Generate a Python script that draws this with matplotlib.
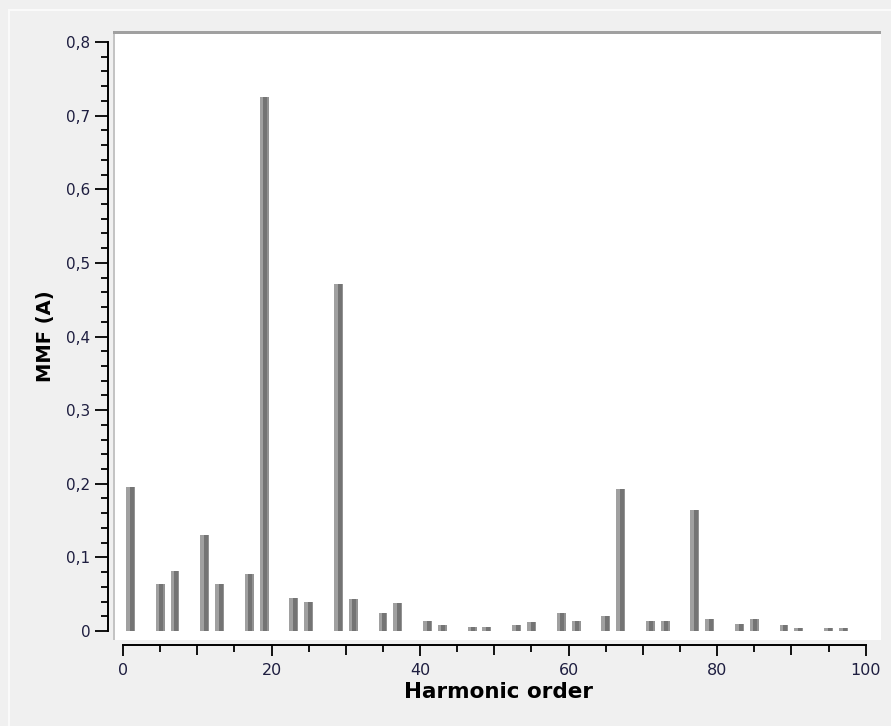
import numpy as np
import matplotlib
matplotlib.use("Agg")
import matplotlib.pyplot as plt
from matplotlib.ticker import MultipleLocator, FuncFormatter
from matplotlib.patches import Rectangle

# harmonic orders (6k +/- 1) and their MMF amplitudes
orders = [1, 5, 7, 11, 13, 17, 19, 23, 25, 29, 31, 35, 37, 41, 43, 47, 49,
          53, 55, 59, 61, 65, 67, 71, 73, 77, 79, 83, 85, 89, 91, 95, 97]
mmf = [0.196, 0.0635, 0.082, 0.131, 0.0635, 0.0775, 0.7255, 0.0444, 0.040,
       0.471, 0.043, 0.024, 0.0385, 0.0136, 0.0077, 0.0054, 0.0054,
       0.0077, 0.0118, 0.024, 0.0136, 0.020, 0.193, 0.0136, 0.0136,
       0.164, 0.0159, 0.0095, 0.0159, 0.0077, 0.0036, 0.0036, 0.0036]

W, H = 891, 726
fig = plt.figure(figsize=(W / 100, H / 100), dpi=100, facecolor="#f0f0f0")

# outer panel frame
fig.patches.append(Rectangle((9 / W, -0.05), 1.1, 1 - 10 / H + 0.05,
                             transform=fig.transFigure, fill=False,
                             edgecolor="#fafafa", lw=1.5))

ax = fig.add_axes([115 / W, 1 - 640 / H, 766 / W, 608 / H])
ax.set_facecolor("white")

# plot-area sunken border (top and left)
fig.patches.append(Rectangle((113 / W, 1 - 640 / H), 2 / W, 608 / H,
                             transform=fig.transFigure, color="#c4c4c4", lw=0))
fig.patches.append(Rectangle((113 / W, 1 - 34 / H), 768 / W, 3 / H,
                             transform=fig.transFigure, color="#a0a0a0", lw=0))

x = np.array(orders)
y = np.array(mmf)
bw = 1.2
ax.bar(x, y, width=bw, color="#747474", lw=0, zorder=2)
ax.bar(x - bw / 2, y, width=bw * 0.4, align="edge", color="#a0a0a0", lw=0, zorder=3)
ax.bar(x + bw / 2, y, width=-bw * 0.15, align="edge", color="#939393", lw=0, zorder=3)

ax.set_xlim(-1.08, 102.06)
ax.set_ylim(-0.0122, 0.8136)

for s in ("top", "right"):
    ax.spines[s].set_visible(False)
ax.spines["left"].set_position(("outward", 5.0))
ax.spines["bottom"].set_position(("outward", 3.6))
ax.spines["left"].set_bounds(0, 0.8)
ax.spines["bottom"].set_bounds(0, 100)
for s in ("left", "bottom"):
    ax.spines[s].set_linewidth(1.4)
    ax.spines[s].set_color("black")

ax.xaxis.set_major_locator(MultipleLocator(20))
ax.xaxis.set_minor_locator(MultipleLocator(5))
ax.yaxis.set_major_locator(MultipleLocator(0.1))
ax.yaxis.set_minor_locator(MultipleLocator(0.02))

lab_col = "#1e1e40"
ax.tick_params(axis="y", which="major", direction="out", length=9.4, width=1.3,
               pad=3.5, labelsize=11, labelcolor=lab_col)
ax.tick_params(axis="y", which="minor", direction="out", length=5, width=1.3)
ax.tick_params(axis="x", which="major", direction="out", length=8, width=1.3,
               pad=5, labelsize=11.5, labelcolor=lab_col)
ax.tick_params(axis="x", which="minor", direction="out", length=5, width=1.3)

ax.yaxis.set_major_formatter(FuncFormatter(
    lambda v, p: "0" if abs(v) < 1e-9 else f"{v:.1f}".replace(".", ",")))
ax.xaxis.set_major_formatter(FuncFormatter(lambda v, p: f"{v:.0f}"))

ax.set_xlabel("Harmonic order", fontsize=15.5, fontweight="bold", labelpad=3)
ax.set_ylabel("MMF (A)", fontsize=14, fontweight="bold", labelpad=8)

# mid-level ticks at multiples of 10 are a little longer
fig.canvas.draw()
for loc, t in zip(ax.xaxis.get_minorticklocs(), ax.xaxis.get_minor_ticks()):
    if abs(loc / 10 - round(loc / 10)) < 1e-6:
        t.tick1line.set_markersize(7)

fig.savefig("out.png", dpi=100, facecolor=fig.get_facecolor())
